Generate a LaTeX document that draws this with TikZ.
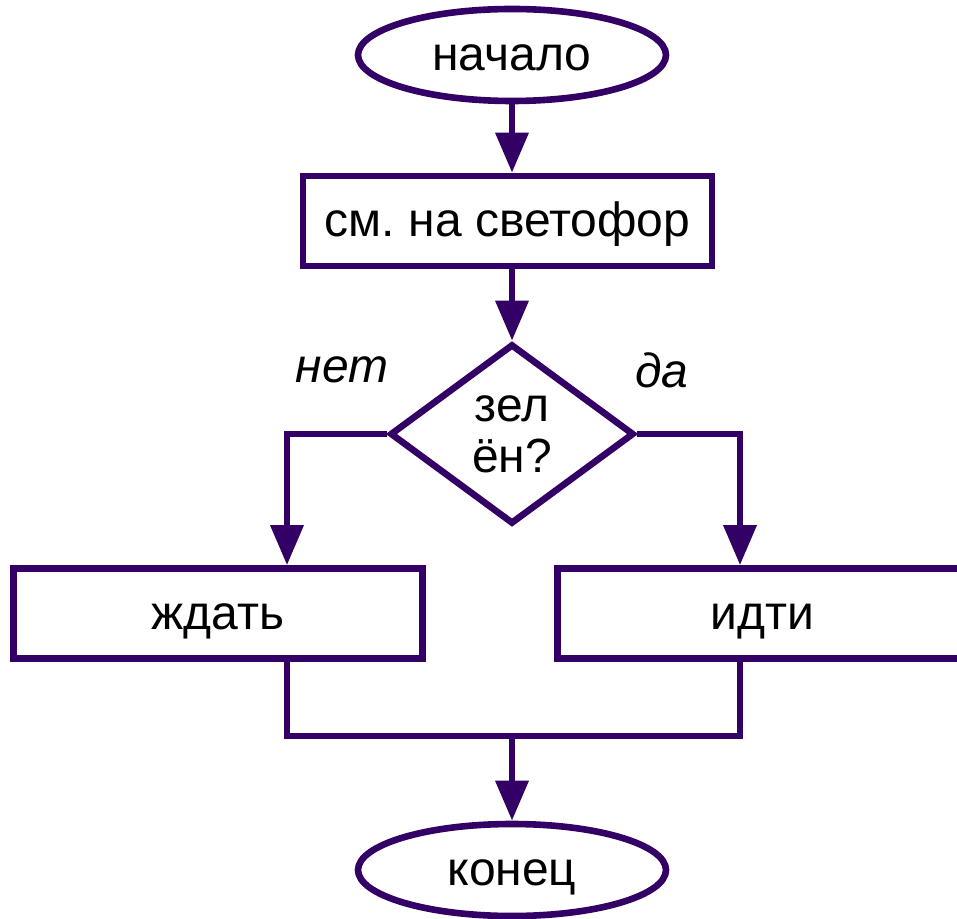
\documentclass[tikz,border=0pt]{standalone}
\usepackage{fontspec}
\setmainfont{Liberation Sans}
\usetikzlibrary{shapes.geometric,arrows.meta}
\definecolor{fline}{HTML}{330066}
\frenchspacing
\begin{document}
\begin{tikzpicture}[x=0.5pt,y=-0.5pt,line width=3.3pt,
  every node/.style={font=\fontsize{24}{25.5}\selectfont,inner sep=0pt},
  term/.style={ellipse,draw=fline,fill=white,minimum width=154pt,minimum height=46pt,text height=15.5pt,text depth=0pt},
  act/.style={rectangle,draw=fline,fill=white,minimum width=204.5pt,minimum height=45pt,text height=15.5pt,text depth=0pt},
  cond/.style={diamond,draw=fline,fill=white,minimum width=122pt,minimum height=90pt,align=center},
  ans/.style={font=\fontsize{24}{26}\selectfont\itshape}]
\useasboundingbox (0,0) rectangle (957,919);
\node[term](start) at (512,55) {начало};
\node[act](look) at (507.5,221) {см. на светофор};
\node[cond](green) at (512,434) {зел\\ён?};
\node[act](wait) at (218,613.5) {ждать};
\node[act](go) at (762,613.5) {идти};
\node[term](stop) at (512,870) {конец};
\node[ans](no) at (342,370) {нет};
\node[ans](yes) at (662,370) {да};
\coordinate (jl) at (287,736);
\coordinate (jr) at (740,736);
\begin{scope}[draw=fline,->,>={Triangle[length=20pt,width=16pt]}]
\draw (start)--(start |- look.north);
\draw (look.south -| green)--(green);
\draw (green.west)-|(jl |- wait.north);
\draw (green.east)-|(jr |- go.north);
\draw[-] (jl |- wait.south)--(jl)--(jr)--(jr |- go.south);
\draw (jl -| stop)--(stop);
\end{scope}
\end{tikzpicture}
\end{document}
